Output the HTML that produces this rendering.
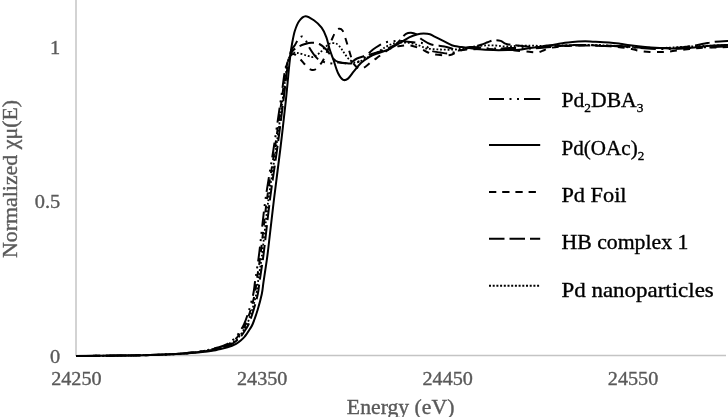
<!DOCTYPE html>
<html><head><meta charset="utf-8"><style>
html,body{margin:0;padding:0;background:#fff;}
body{width:728px;height:417px;overflow:hidden;}
svg{display:block;will-change:transform;font-family:"Liberation Serif", serif;}
text{stroke-width:0.35px;paint-order:stroke;}
</style></head><body>
<svg width="728" height="417" viewBox="0 0 728 417">
<line x1="76" y1="0" x2="76" y2="356" stroke="#c4c4c4" stroke-width="1.5"/>
<line x1="76" y1="355.5" x2="726" y2="355.5" stroke="#c4c4c4" stroke-width="1.5"/>
<path id="nano" d="M76.0,356.0 C83.3,355.9 107.7,355.8 120.0,355.6 C132.3,355.4 140.7,355.3 150.0,355.0 C159.3,354.7 168.3,354.4 176.0,354.0 C183.7,353.6 191.0,352.9 196.3,352.3 C201.7,351.7 205.5,351.1 208.3,350.6 C211.1,350.1 211.1,349.9 213.4,349.3 C215.7,348.8 219.1,348.2 222.0,347.3 C224.9,346.4 228.3,345.0 230.6,343.8 C232.8,342.6 234.1,341.5 235.5,340.3 C236.9,339.1 238.0,338.2 239.3,336.5 C240.7,334.8 242.3,332.3 243.6,330.2 C244.9,328.1 245.8,327.4 247.2,324.0 C248.6,320.6 250.6,315.0 252.1,310.0 C253.6,305.0 255.3,298.7 256.3,294.0 C257.3,289.3 257.4,286.0 258.0,282.0 C258.6,278.0 259.0,275.3 259.8,270.0 C260.6,264.7 261.2,261.7 262.6,250.0 C264.0,238.3 266.2,216.7 268.4,200.0 C270.6,183.3 273.4,166.7 275.8,150.0 C278.2,133.3 280.8,113.3 282.6,100.0 C284.4,86.7 285.3,77.0 286.4,70.0 C287.5,63.0 287.9,60.8 289.0,58.0 C290.1,55.2 291.6,53.8 293.0,53.0 C294.4,52.2 295.5,52.7 297.5,53.0 C299.5,53.3 302.6,54.3 305.0,55.0 C307.4,55.7 310.1,56.8 311.8,57.0 C313.5,57.2 313.8,56.6 315.0,56.0 C316.2,55.4 317.9,54.3 319.0,53.4 C320.1,52.5 320.7,51.9 321.9,50.8 C323.1,49.6 324.6,47.7 326.0,46.5 C327.4,45.3 328.3,44.0 330.0,43.5 C331.7,43.0 334.3,42.9 336.0,43.5 C337.7,44.1 339.2,46.0 340.3,47.2 C341.4,48.4 341.8,49.5 342.5,50.5 C343.2,51.5 343.9,52.4 344.6,53.4 C345.3,54.4 346.0,55.6 346.8,56.6 C347.6,57.6 348.3,58.6 349.3,59.5 C350.3,60.4 351.7,61.5 353.0,62.0 C354.3,62.5 355.5,62.8 357.0,62.5 C358.5,62.2 359.8,61.6 362.0,60.5 C364.2,59.4 367.3,57.4 370.0,56.0 C372.7,54.6 375.4,53.5 378.0,52.0 C380.6,50.5 383.1,48.3 385.4,47.0 C387.7,45.7 389.6,44.8 392.0,44.0 C394.4,43.2 397.0,42.7 400.0,42.5 C403.0,42.3 407.0,42.6 410.0,43.0 C413.0,43.4 415.5,44.4 417.8,45.1 C420.1,45.9 422.5,46.9 424.0,47.5 C425.5,48.1 424.3,48.3 427.0,48.6 C429.7,48.9 435.5,49.3 440.0,49.5 C444.5,49.7 449.6,49.9 453.8,49.6 C458.0,49.4 461.5,48.5 465.0,48.0 C468.5,47.5 471.8,46.9 475.0,46.5 C478.2,46.1 481.0,45.7 484.3,45.5 C487.6,45.3 491.6,45.3 495.0,45.5 C498.4,45.7 501.7,46.4 505.0,46.5 C508.3,46.6 511.7,46.1 515.0,46.0 C518.3,45.9 522.0,45.7 525.0,45.6 C528.0,45.5 529.7,45.5 533.0,45.6 C536.3,45.7 540.5,46.0 545.0,46.0 C549.5,46.0 555.0,45.7 560.0,45.5 C565.0,45.3 570.0,45.1 575.0,45.0 C580.0,44.9 585.0,44.9 590.0,45.0 C595.0,45.1 600.0,45.3 605.0,45.5 C610.0,45.7 614.2,45.7 620.0,46.0 C625.8,46.3 633.3,47.2 640.0,47.5 C646.7,47.8 653.3,48.1 660.0,48.0 C666.7,47.9 673.3,47.3 680.0,47.0 C686.7,46.7 694.2,46.2 700.0,46.0 C705.8,45.8 710.3,45.6 715.0,45.5 C719.7,45.4 725.8,45.5 728.0,45.5" fill="none" stroke="#000" stroke-width="1.80" stroke-linejoin="round" stroke-linecap="butt" stroke-dasharray="1.8 1.9"/>
<path id="foil" d="M76.0,356.0 C83.3,355.9 107.7,355.8 120.0,355.6 C132.3,355.4 140.7,355.3 150.0,355.0 C159.3,354.7 168.4,354.4 176.0,354.0 C183.6,353.6 190.2,352.9 195.3,352.3 C200.5,351.7 204.0,351.1 206.8,350.6 C209.6,350.1 209.6,349.9 211.9,349.3 C214.2,348.8 217.6,348.2 220.5,347.3 C223.4,346.4 226.8,345.0 229.1,343.8 C231.3,342.6 232.6,341.5 234.0,340.3 C235.4,339.1 236.5,338.2 237.8,336.5 C239.2,334.8 240.8,332.3 242.1,330.2 C243.4,328.1 244.3,327.4 245.7,324.0 C247.1,320.6 249.1,315.0 250.6,310.0 C252.1,305.0 253.8,298.7 254.8,294.0 C255.8,289.3 255.9,286.0 256.5,282.0 C257.1,278.0 257.5,275.3 258.3,270.0 C259.1,264.7 259.7,261.7 261.1,250.0 C262.5,238.3 264.6,216.7 266.9,200.0 C269.1,183.3 272.1,166.7 274.6,150.0 C277.1,133.3 279.8,113.3 281.7,100.0 C283.6,86.7 284.5,77.0 285.8,70.0 C287.0,63.0 287.8,60.7 289.0,58.0 C290.2,55.3 291.7,54.3 293.0,54.0 C294.3,53.7 295.8,55.1 297.0,56.0 C298.2,56.9 299.2,58.0 300.4,59.3 C301.6,60.6 303.0,62.5 304.4,64.0 C305.8,65.5 307.3,67.5 308.6,68.5 C309.9,69.5 310.9,69.8 312.0,70.0 C313.1,70.2 314.0,70.2 315.2,69.5 C316.4,68.8 318.1,67.0 319.4,65.5 C320.7,64.0 321.8,62.6 323.0,60.5 C324.2,58.4 325.3,55.8 326.5,53.0 C327.7,50.2 329.0,46.5 330.0,44.0 C331.0,41.5 331.6,40.0 332.5,38.0 C333.4,36.0 334.4,33.5 335.5,32.0 C336.6,30.5 337.8,29.1 339.0,28.8 C340.2,28.6 341.5,29.1 342.5,30.5 C343.5,31.9 344.2,34.6 345.0,37.0 C345.8,39.4 346.6,42.0 347.5,45.0 C348.4,48.0 349.5,51.9 350.4,54.8 C351.3,57.7 352.1,60.5 353.0,62.5 C353.9,64.5 355.0,65.5 356.0,66.5 C357.0,67.5 358.0,68.0 359.0,68.3 C360.0,68.6 360.8,68.9 362.0,68.6 C363.2,68.3 364.3,67.5 366.0,66.3 C367.7,65.1 370.3,62.5 372.0,61.2 C373.7,59.9 374.2,59.8 376.4,58.3 C378.6,56.8 382.2,53.8 385.0,52.0 C387.8,50.2 390.4,48.5 393.0,47.5 C395.6,46.5 397.7,46.3 400.5,46.0 C403.3,45.7 406.8,45.1 410.0,45.5 C413.2,45.9 417.0,47.3 420.0,48.5 C423.0,49.7 425.5,51.5 428.0,52.5 C430.5,53.5 431.9,54.0 435.0,54.5 C438.1,55.0 443.7,55.3 446.5,55.3 C449.3,55.3 450.4,55.0 452.0,54.5 C453.6,54.0 454.6,53.1 456.4,52.4 C458.2,51.6 460.3,50.5 462.6,50.0 C464.9,49.5 466.3,49.7 470.0,49.5 C473.7,49.3 480.0,49.0 485.0,49.0 C490.0,49.0 495.0,49.2 500.0,49.5 C505.0,49.8 509.8,50.1 515.0,50.5 C520.2,50.9 527.2,51.7 531.0,52.0 C534.8,52.3 535.5,52.8 537.7,52.5 C539.9,52.2 542.0,51.0 544.0,50.2 C546.0,49.5 547.3,48.6 550.0,48.0 C552.7,47.4 555.8,46.9 560.0,46.5 C564.2,46.1 570.0,45.7 575.0,45.5 C580.0,45.3 584.2,45.2 590.0,45.3 C595.8,45.4 604.2,45.9 610.0,46.3 C615.8,46.7 621.0,47.2 625.0,47.8 C629.0,48.3 631.5,49.1 634.0,49.6 C636.5,50.1 637.3,50.6 640.0,51.0 C642.7,51.4 646.2,51.8 650.0,52.0 C653.8,52.2 659.7,52.1 663.0,52.0 C666.3,51.9 666.3,51.9 670.0,51.5 C673.7,51.1 680.0,50.1 685.0,49.5 C690.0,48.9 692.8,48.4 700.0,48.0 C707.2,47.6 723.3,47.2 728.0,47.0" fill="none" stroke="#000" stroke-width="2.00" stroke-linejoin="round" stroke-linecap="butt" stroke-dasharray="6.8 6.4" stroke-dashoffset="9.20"/>
<path id="hb" d="M76.0,356.0 C83.3,355.9 107.7,355.8 120.0,355.6 C132.3,355.4 140.7,355.3 150.0,355.0 C159.3,354.7 168.1,354.4 176.0,354.0 C183.9,353.6 191.7,352.9 197.3,352.3 C203.0,351.7 206.9,351.1 209.8,350.6 C212.7,350.1 212.6,349.9 214.9,349.3 C217.2,348.8 220.6,348.2 223.5,347.3 C226.4,346.4 229.8,345.0 232.1,343.8 C234.3,342.6 235.6,341.5 237.0,340.3 C238.4,339.1 239.5,338.2 240.8,336.5 C242.2,334.8 243.8,332.3 245.1,330.2 C246.4,328.1 247.3,327.4 248.7,324.0 C250.1,320.6 252.1,315.0 253.6,310.0 C255.1,305.0 256.8,298.7 257.8,294.0 C258.8,289.3 258.9,286.0 259.5,282.0 C260.1,278.0 260.5,275.3 261.3,270.0 C262.1,264.7 262.7,261.7 264.1,250.0 C265.5,238.3 267.8,216.7 269.9,200.0 C272.0,183.3 274.7,166.7 277.0,150.0 C279.3,133.3 281.8,113.3 283.5,100.0 C285.2,86.7 286.1,77.0 287.1,70.0 C288.1,63.0 288.6,61.2 289.5,58.0 C290.4,54.8 290.9,52.9 292.5,51.0 C294.1,49.1 296.8,47.6 298.9,46.4 C301.0,45.2 302.9,44.6 305.0,44.0 C307.1,43.4 309.1,42.8 311.5,42.8 C313.9,42.8 316.9,42.8 319.4,44.0 C321.9,45.2 324.6,47.8 326.5,49.8 C328.4,51.8 329.4,54.1 331.0,56.0 C332.6,57.9 334.0,59.8 336.0,61.0 C338.0,62.2 340.7,62.5 343.0,63.0 C345.3,63.5 348.1,64.0 349.7,63.8 C351.3,63.5 351.3,62.4 352.5,61.5 C353.7,60.6 355.1,59.4 357.0,58.5 C358.9,57.6 361.5,56.9 363.7,56.2 C365.9,55.5 367.3,55.3 370.0,54.5 C372.7,53.7 376.7,52.7 380.0,51.5 C383.3,50.3 387.2,48.8 390.0,47.5 C392.8,46.2 394.9,45.2 397.0,43.5 C399.1,41.8 400.8,39.0 402.3,37.4 C403.8,35.8 404.6,34.6 406.0,33.8 C407.4,33.0 409.3,32.6 411.0,32.7 C412.7,32.8 414.2,33.1 416.0,34.2 C417.8,35.3 419.4,37.8 422.0,39.5 C424.6,41.2 427.5,43.4 431.3,44.5 C435.1,45.6 441.1,45.6 444.7,46.4 C448.3,47.1 450.8,48.3 453.0,49.0 C455.2,49.7 456.2,50.4 458.0,50.5 C459.8,50.6 462.0,50.0 464.0,49.5 C466.0,49.0 467.2,48.3 470.0,47.5 C472.8,46.7 478.1,45.6 481.0,44.7 C483.9,43.8 485.5,43.0 487.7,42.2 C489.9,41.5 491.8,40.4 494.0,40.2 C496.2,40.0 498.8,40.3 500.7,40.9 C502.6,41.5 503.4,42.9 505.3,43.6 C507.2,44.3 509.8,44.7 512.0,45.0 C514.2,45.3 515.4,45.3 518.4,45.6 C521.4,45.9 525.6,46.8 530.0,47.0 C534.4,47.2 540.0,47.2 545.0,47.0 C550.0,46.8 555.0,46.2 560.0,46.0 C565.0,45.8 570.0,45.6 575.0,45.5 C580.0,45.4 585.0,45.4 590.0,45.5 C595.0,45.6 600.0,45.9 605.0,46.0 C610.0,46.1 614.2,45.8 620.0,46.0 C625.8,46.2 633.3,47.2 640.0,47.5 C646.7,47.8 653.3,48.0 660.0,48.0 C666.7,48.0 674.2,47.9 680.0,47.5 C685.8,47.1 690.8,46.2 695.0,45.5 C699.2,44.8 701.7,44.1 705.0,43.5 C708.3,42.9 711.2,42.2 715.0,41.8 C718.8,41.4 725.8,41.1 728.0,41.0" fill="none" stroke="#000" stroke-width="2.00" stroke-linejoin="round" stroke-linecap="butt" stroke-dasharray="15 5" stroke-dashoffset="10.50"/>
<path id="dba" d="M76.0,356.0 C83.3,355.9 107.7,355.8 120.0,355.6 C132.3,355.4 140.7,355.3 150.0,355.0 C159.3,354.7 168.6,354.4 176.0,354.0 C183.4,353.6 189.5,352.9 194.3,352.3 C199.2,351.7 202.6,351.1 205.3,350.6 C208.0,350.1 208.1,349.9 210.4,349.3 C212.7,348.8 216.1,348.2 219.0,347.3 C221.9,346.4 225.3,345.0 227.6,343.8 C229.8,342.6 231.1,341.5 232.5,340.3 C233.9,339.1 235.0,338.2 236.3,336.5 C237.7,334.8 239.3,332.3 240.6,330.2 C241.9,328.1 242.8,327.4 244.2,324.0 C245.6,320.6 247.6,315.0 249.1,310.0 C250.6,305.0 252.3,298.7 253.3,294.0 C254.3,289.3 254.4,286.0 255.0,282.0 C255.6,278.0 256.0,275.3 256.8,270.0 C257.6,264.7 258.2,261.7 259.6,250.0 C261.0,238.3 263.1,216.7 265.4,200.0 C267.7,183.3 270.8,166.7 273.4,150.0 C276.0,133.3 278.8,113.3 280.8,100.0 C282.8,86.7 283.7,77.0 285.1,70.0 C286.5,63.0 288.0,61.3 289.0,58.0 C290.0,54.7 290.4,52.2 291.4,50.0 C292.4,47.8 293.8,46.9 295.0,45.0 C296.2,43.1 297.4,40.2 298.6,38.8 C299.8,37.4 300.9,36.3 302.0,36.5 C303.1,36.7 304.2,38.0 305.5,40.0 C306.8,42.0 308.1,45.6 310.0,48.7 C311.9,51.8 314.9,56.2 317.2,58.4 C319.5,60.6 321.7,61.2 324.0,62.0 C326.3,62.8 328.7,63.3 331.0,63.4 C333.3,63.5 335.7,62.7 338.0,62.6 C340.3,62.5 343.0,62.8 345.0,63.0 C347.0,63.2 348.2,63.7 350.0,63.6 C351.8,63.5 354.2,62.8 356.0,62.3 C357.8,61.8 359.5,61.4 361.0,60.5 C362.5,59.6 363.8,58.4 365.0,57.2 C366.2,56.0 367.2,54.8 368.5,53.5 C369.8,52.2 371.3,50.8 373.0,49.5 C374.7,48.2 376.8,46.8 378.9,45.6 C381.0,44.4 383.1,43.1 385.4,42.4 C387.7,41.7 390.6,41.6 392.9,41.3 C395.2,41.0 396.8,40.5 399.0,40.6 C401.2,40.7 403.3,41.3 406.0,41.6 C408.7,41.9 412.2,42.1 415.0,42.4 C417.8,42.7 420.9,42.6 422.8,43.2 C424.7,43.8 424.9,44.7 426.4,46.0 C427.9,47.3 429.7,49.9 432.0,51.0 C434.3,52.1 437.4,52.0 440.0,52.4 C442.6,52.8 445.0,53.6 447.5,53.5 C450.0,53.4 452.6,52.7 455.0,52.0 C457.4,51.3 459.5,50.3 462.0,49.5 C464.5,48.7 467.0,47.3 470.0,47.0 C473.0,46.7 476.7,47.2 480.0,47.5 C483.3,47.8 486.7,48.3 490.0,48.5 C493.3,48.7 496.7,48.6 500.0,48.5 C503.3,48.4 506.7,48.1 510.0,48.0 C513.3,47.9 516.7,47.9 520.0,48.0 C523.3,48.1 525.8,48.6 530.0,48.5 C534.2,48.4 540.0,47.9 545.0,47.5 C550.0,47.1 555.0,46.4 560.0,46.0 C565.0,45.6 570.0,45.2 575.0,45.0 C580.0,44.8 585.0,44.9 590.0,45.0 C595.0,45.1 600.0,45.2 605.0,45.5 C610.0,45.8 614.2,46.1 620.0,46.5 C625.8,46.9 633.3,47.6 640.0,48.0 C646.7,48.4 653.3,48.9 660.0,49.0 C666.7,49.1 673.3,48.8 680.0,48.5 C686.7,48.2 694.2,47.8 700.0,47.5 C705.8,47.2 710.3,47.2 715.0,47.0 C719.7,46.8 725.8,46.6 728.0,46.5" fill="none" stroke="#000" stroke-width="2.00" stroke-linejoin="round" stroke-linecap="butt" stroke-dasharray="15 5.5 2 5.5 2 5" stroke-dashoffset="1.50"/>
<path id="solid" d="M76.0,356.0 C83.3,355.9 107.7,355.8 120.0,355.6 C132.3,355.4 140.7,355.3 150.0,355.0 C159.3,354.7 167.7,354.4 176.0,354.0 C184.3,353.6 193.7,352.9 200.0,352.3 C206.3,351.7 210.7,351.1 213.8,350.6 C217.0,350.1 216.6,349.9 218.9,349.3 C221.2,348.8 224.6,348.2 227.5,347.3 C230.4,346.4 233.8,345.0 236.1,343.8 C238.3,342.6 239.6,341.5 241.0,340.3 C242.4,339.1 243.5,338.2 244.8,336.5 C246.2,334.8 247.8,332.3 249.1,330.2 C250.4,328.1 251.3,327.4 252.7,324.0 C254.1,320.6 256.1,315.0 257.6,310.0 C259.1,305.0 260.8,298.7 261.8,294.0 C262.8,289.3 262.9,286.0 263.5,282.0 C264.1,278.0 264.5,275.3 265.3,270.0 C266.1,264.7 266.7,261.7 268.1,250.0 C269.5,238.3 271.9,216.7 273.9,200.0 C275.9,183.3 278.2,166.7 280.2,150.0 C282.2,133.3 284.5,113.3 285.9,100.0 C287.3,86.7 288.1,77.3 288.8,70.0 C289.5,62.7 289.8,60.3 290.3,56.0 C290.8,51.7 291.2,48.2 292.0,44.0 C292.8,39.8 293.6,34.8 294.8,31.0 C296.0,27.2 297.4,23.5 299.2,21.0 C301.0,18.5 303.1,16.3 305.5,16.2 C307.9,16.1 311.2,18.4 313.9,20.3 C316.6,22.2 319.5,24.9 321.6,27.7 C323.7,30.5 325.1,33.8 326.4,37.3 C327.7,40.8 328.3,45.0 329.5,48.8 C330.7,52.6 332.1,56.0 333.5,60.0 C334.9,64.0 336.4,69.7 338.0,73.0 C339.6,76.3 341.5,78.9 343.2,79.8 C344.9,80.7 346.2,80.0 348.0,78.6 C349.8,77.2 351.8,73.8 354.0,71.2 C356.2,68.6 358.6,65.2 361.2,62.8 C363.8,60.4 366.8,58.4 369.6,56.8 C372.4,55.2 374.9,54.4 378.0,53.2 C381.1,52.0 384.4,51.3 388.0,49.6 C391.6,47.9 396.1,45.2 399.6,43.2 C403.1,41.2 406.3,38.9 409.2,37.4 C412.1,35.9 414.4,35.1 416.8,34.5 C419.2,33.9 421.4,33.6 423.6,33.6 C425.8,33.6 428.2,33.7 430.0,34.2 C431.8,34.7 432.2,35.4 434.6,36.6 C437.0,37.8 441.3,40.0 444.2,41.4 C447.1,42.8 449.4,44.4 451.8,45.3 C454.2,46.2 456.4,46.4 458.6,46.7 C460.8,47.1 462.0,47.0 465.0,47.4 C468.0,47.8 472.0,48.4 476.8,48.9 C481.6,49.4 488.1,49.9 493.6,50.1 C499.1,50.3 505.3,50.1 510.0,50.0 C514.7,49.9 518.4,49.7 521.8,49.4 C525.2,49.1 527.4,48.5 530.2,48.1 C533.0,47.7 535.8,47.3 538.6,46.9 C541.4,46.5 544.2,46.0 547.0,45.6 C549.8,45.2 552.3,44.9 555.3,44.4 C558.3,43.9 561.6,43.2 565.0,42.7 C568.4,42.2 572.0,42.0 575.4,41.7 C578.8,41.5 582.0,41.2 585.2,41.2 C588.4,41.2 590.6,41.6 594.6,41.8 C598.6,42.0 604.8,42.3 609.0,42.6 C613.2,42.9 616.5,43.3 620.0,43.7 C623.5,44.1 625.8,44.7 630.0,45.2 C634.2,45.8 639.2,46.5 645.2,47.0 C651.2,47.5 660.8,47.9 665.8,48.2 C670.8,48.5 670.5,48.7 675.3,48.6 C680.0,48.5 688.0,47.9 694.3,47.4 C700.6,46.9 707.6,45.9 713.2,45.5 C718.8,45.1 725.5,45.0 728.0,44.9" fill="none" stroke="#000" stroke-width="2.00" stroke-linejoin="round" stroke-linecap="butt"/>
<g transform="translate(60.2,53.5) scale(1.045,1)"><text x="0" y="0" text-anchor="end" font-size="19.5" fill="#595959" stroke="#595959">1</text></g>
<g transform="translate(60.2,208.0) scale(1.045,1)"><text x="0" y="0" text-anchor="end" font-size="19.5" fill="#595959" stroke="#595959">0.5</text></g>
<g transform="translate(60.2,362.5) scale(1.045,1)"><text x="0" y="0" text-anchor="end" font-size="19.5" fill="#595959" stroke="#595959">0</text></g>
<g transform="translate(76.4,385) scale(1.035,1)"><text x="0" y="0" text-anchor="middle" font-size="19.5" fill="#595959" stroke="#595959">24250</text></g>
<g transform="translate(262.2,385) scale(1.035,1)"><text x="0" y="0" text-anchor="middle" font-size="19.5" fill="#595959" stroke="#595959">24350</text></g>
<g transform="translate(447.7,385) scale(1.035,1)"><text x="0" y="0" text-anchor="middle" font-size="19.5" fill="#595959" stroke="#595959">24450</text></g>
<g transform="translate(633.0,385) scale(1.035,1)"><text x="0" y="0" text-anchor="middle" font-size="19.5" fill="#595959" stroke="#595959">24550</text></g>
<g transform="translate(346.87,413.60) scale(1.0343,1)"><text x="0" y="0" font-size="21" fill="#595959" stroke="#595959">Energy (eV)</text></g>
<g transform="translate(17,258.04) rotate(-90) scale(1.0433,1)"><text x="0" y="0" font-size="21" fill="#595959" stroke="#595959">Normalized χμ(E)</text></g>
<line x1="489" y1="99.0" x2="540.2" y2="99.0" stroke="#000" stroke-width="2" stroke-dasharray="15 5.5 2 5.5 2 5 30 5"/>
<g transform="translate(561.47,106.60) scale(1.0304,1)"><text x="0" y="0" font-size="21" fill="#000" stroke="#000">Pd<tspan font-size="13" dy="5">2</tspan><tspan dy="-5">DBA</tspan><tspan font-size="13" dy="5">3</tspan></text></g>
<line x1="489" y1="145.0" x2="540.2" y2="145.0" stroke="#000" stroke-width="2"/>
<g transform="translate(561.50,154.60) scale(1.0049,1)"><text x="0" y="0" font-size="21" fill="#000" stroke="#000">Pd(OAc)<tspan font-size="13" dy="5">2</tspan></text></g>
<line x1="489" y1="192.0" x2="540.2" y2="192.0" stroke="#000" stroke-width="2" stroke-dasharray="7.3 5.9"/>
<g transform="translate(561.44,201.80) scale(1.0633,1)"><text x="0" y="0" font-size="21" fill="#000" stroke="#000">Pd Foil</text></g>
<line x1="489" y1="238.8" x2="540.2" y2="238.8" stroke="#000" stroke-width="2" stroke-dasharray="15.5 5"/>
<g transform="translate(561.46,248.60) scale(1.0375,1)"><text x="0" y="0" font-size="21" fill="#000" stroke="#000">HB complex 1</text></g>
<line x1="489" y1="285.8" x2="540.2" y2="285.8" stroke="#000" stroke-width="2" stroke-dasharray="2 1.7"/>
<g transform="translate(561.41,296.90) scale(1.0935,1)"><text x="0" y="0" font-size="21" fill="#000" stroke="#000">Pd nanoparticles</text></g>
</svg>
</body></html>
